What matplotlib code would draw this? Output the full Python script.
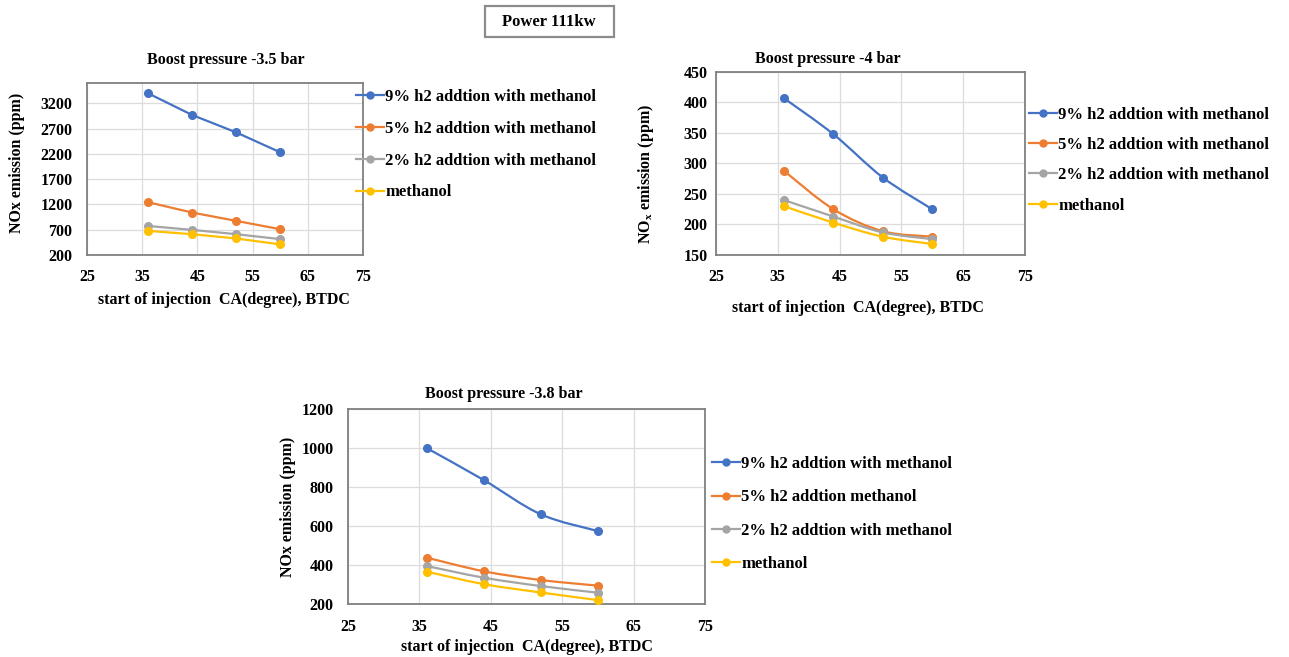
import numpy as np
import matplotlib
matplotlib.use("Agg")
import matplotlib.pyplot as plt
from matplotlib.path import Path
from matplotlib.patches import PathPatch, Rectangle
from matplotlib.lines import Line2D

plt.rcParams['font.family'] = ['Liberation Serif', 'DejaVu Serif']
plt.rcParams['font.weight'] = 'bold'
plt.rcParams['mathtext.fontset'] = 'custom'
plt.rcParams['mathtext.rm'] = 'Liberation Serif:bold'
plt.rcParams['mathtext.bf'] = 'Liberation Serif:bold'

# ---------------- data ----------------
soi = [36, 44, 52, 60]

labels_a = ["9% h2 addtion with methanol", "5% h2 addtion with methanol",
            "2% h2 addtion with methanol", "methanol"]
labels_c = ["9% h2 addtion with methanol", "5% h2 addtion methanol",
            "2% h2 addtion with methanol", "methanol"]

# Boost pressure 3.5 bar
p35_h9 = [3400, 2970, 2625, 2230]
p35_h5 = [1245, 1040, 875, 710]
p35_h2 = [775, 697, 612, 514]
p35_meth = [677, 612, 527, 410]

# Boost pressure 4 bar
p4_h9 = [407, 348, 277, 225]
p4_h5 = [288, 225, 189, 180]
p4_h2 = [240, 213, 187, 176]
p4_meth = [230, 203, 180, 168]

# Boost pressure 3.8 bar
p38_h9 = [1000, 836, 660, 574]
p38_h5 = [438, 368, 323, 294]
p38_h2 = [395, 335, 292, 258]
p38_meth = [366, 302, 259, 220]

xticks = [25, 35, 45, 55, 65, 75]
colors = ["#4472C4", "#ED7D31", "#A5A5A5", "#FFC000"]

W, H = 1289, 657
fig = plt.figure(figsize=(W / 100, H / 100), dpi=100)


def fx(px):
    return px / W


def fy(py):
    return 1 - py / H


def smooth_path(x, y, tension=1/6):
    """Excel-like smoothed line: cubic Bezier segments through the data points."""
    x = np.asarray(x, float)
    y = np.asarray(y, float)
    n = len(x)
    verts = [(x[0], y[0])]
    codes = [Path.MOVETO]
    for i in range(n - 1):
        p0 = np.array([x[max(i - 1, 0)], y[max(i - 1, 0)]])
        p1 = np.array([x[i], y[i]])
        p2 = np.array([x[i + 1], y[i + 1]])
        p3 = np.array([x[min(i + 2, n - 1)], y[min(i + 2, n - 1)]])
        c1 = p1 + (p2 - p0) * tension
        c2 = p2 - (p3 - p1) * tension
        verts += [tuple(c1), tuple(c2), tuple(p2)]
        codes += [Path.CURVE4] * 3
    return Path(verts, codes)


def panel(box, series, labels, ylim, ystep, title, title_xy, ylabel, ylabel_xy,
          xlabel_xy, smooth, legend_xy, legend_gap, ypad, xpad):
    x0, y0, x1, y1 = box
    ax = fig.add_axes([fx(x0), fy(y1), (x1 - x0) / W, (y1 - y0) / H])
    for vals, c in zip(series, colors):
        if smooth:
            ax.add_patch(PathPatch(smooth_path(soi, vals), facecolor='none',
                                   edgecolor=c, lw=1.6, zorder=3))
        else:
            ax.plot(soi, vals, color=c, lw=1.6, zorder=3)
        ax.plot(soi, vals, linestyle='none', marker='o', ms=5.5, color=c, zorder=4)
    ax.set_xlim(25, 75)
    ax.set_xticks(xticks)
    ax.set_ylim(*ylim)
    ax.set_yticks(np.arange(ylim[0], ylim[1] + 1, ystep))
    ax.grid(True, color='#DCDCDC', lw=0.9)
    ax.set_axisbelow(True)
    for s in ax.spines.values():
        s.set_color('#808080')
        s.set_linewidth(1.3)
    ax.tick_params(axis='y', length=0, labelsize=11.5, pad=ypad)
    ax.tick_params(axis='x', length=0, labelsize=11.5, pad=xpad)
    for lab in ax.get_xticklabels() + ax.get_yticklabels():
        lab.set_fontweight('bold')
    tx = (title_xy[0] - x0) / (x1 - x0)
    ty = (y1 - title_xy[1]) / (y1 - y0)
    ax.set_title(title, fontsize=11.5, fontweight='bold', va='center',
                 x=tx, y=ty, pad=0)
    ax.set_xlabel("start of injection  CA(degree), BTDC", fontsize=11.5,
                  fontweight='bold', va='center')
    ax.xaxis.set_label_coords(fx(xlabel_xy[0]), fy(xlabel_xy[1]),
                              transform=fig.transFigure)
    ax.set_ylabel(ylabel, fontsize=11.5, fontweight='bold', va='center')
    ax.yaxis.set_label_coords(fx(ylabel_xy[0]), fy(ylabel_xy[1]),
                              transform=fig.transFigure)
    handles = [Line2D([], [], color=c, lw=1.6, marker='o', ms=5) for c in colors]
    ax.legend(handles, labels, loc='upper left',
              bbox_to_anchor=(fx(legend_xy[0]), fy(legend_xy[1])),
              bbox_transform=fig.transFigure,
              frameon=False, handlelength=1.65, handletextpad=0.1,
              labelspacing=legend_gap, borderaxespad=0, borderpad=0,
              prop={'weight': 'bold', 'size': 12})
    return ax


# Boost pressure 3.5 bar (top left)
panel((87, 83, 363, 255),
      [p35_h9, p35_h5, p35_h2, p35_meth], labels_a,
      (200, 3600), 500, "Boost pressure -3.5 bar", (226, 60),
      "NOx emission (ppm)", (17, 163), (224, 300),
      False, (356, 89), 0.95, 10.5, 10)

# Boost pressure 4 bar (top right)
panel((716, 72, 1025, 255),
      [p4_h9, p4_h5, p4_h2, p4_meth], labels_a,
      (150, 450), 50, "Boost pressure -4 bar", (828, 59),
      "NO$_\\mathrm{x}$ emission (ppm)", (646, 174), (858, 308),
      True, (1029, 107), 0.85, 6, 10)

# Boost pressure 3.8 bar (bottom)
panel((348, 409, 705, 604),
      [p38_h9, p38_h5, p38_h2, p38_meth], labels_c,
      (200, 1200), 200, "Boost pressure -3.8 bar", (504, 394),
      "NOx emission (ppm)", (288, 507), (527, 647),
      True, (712, 456), 1.04, 10.5, 11)

# "Power 111kw" caption box
fig.add_artist(Rectangle((fx(485), fy(37)), (614 - 485) / W, 31 / H,
                         transform=fig.transFigure, facecolor='white',
                         edgecolor='#8C8C8C', lw=1.6))
fig.text(fx(549), fy(21.5), "Power 111kw", ha='center', va='center',
         fontsize=12, fontweight='bold')

fig.savefig("out.png", dpi=100)
